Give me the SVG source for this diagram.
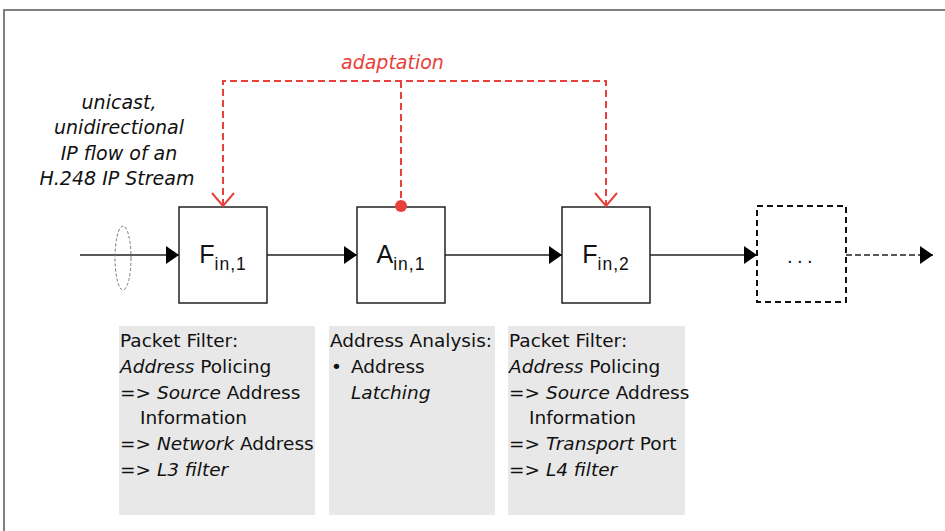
<svg xmlns="http://www.w3.org/2000/svg" width="945" height="531" viewBox="0 0 945 531">
<style>
.box{fill:#fff;stroke:#222;stroke-width:1.5}
.lbl{font-family:"Liberation Sans",Arial,sans-serif;font-size:25px;fill:#111;text-anchor:middle}
.sub{font-size:17.5px;letter-spacing:1px}
.note{fill:#e8e8e8}
.t{font-family:"DejaVu Sans",sans-serif;font-size:18.5px;fill:#111}
.i{font-style:italic}
.flow{stroke:#222;stroke-width:1.5;fill:none}
.red{stroke:#e8403a;stroke-width:2;fill:none;stroke-dasharray:7 4}
.side{font-family:"DejaVu Sans",sans-serif;font-size:19px;font-style:italic;fill:#111;text-anchor:middle}
</style>
<defs>
<marker id="ah" markerWidth="13" markerHeight="18" refX="13" refY="9" orient="auto" markerUnits="userSpaceOnUse">
<path d="M0,0 L13,9 L0,18 Z" fill="#000"/>
</marker>
</defs>
<rect width="945" height="531" fill="#fff"/>
<rect x="4" y="10" width="1000" height="600" fill="none" stroke="#808080" stroke-width="2"/>

<g id="side-label">
<text class="side" x="119" y="109">unicast,</text>
<text class="side" x="119" y="134">unidirectional</text>
<text class="side" x="119" y="160">IP flow of an</text>
<text class="side" x="117" y="185">H.248 IP Stream</text>
</g>

<g id="F1">
<rect class="box" x="179" y="207" width="88" height="96"/>
<text class="lbl" x="223" y="263">F<tspan class="sub" dy="7">in,1</tspan></text>
</g>
<g id="A1">
<rect class="box" x="357" y="207" width="88" height="96"/>
<text class="lbl" x="401" y="263">A<tspan class="sub" dy="7">in,1</tspan></text>
</g>
<g id="F2">
<rect class="box" x="562" y="207" width="88" height="96"/>
<text class="lbl" x="606" y="263">F<tspan class="sub" dy="7">in,2</tspan></text>
</g>
<g id="more">
<rect x="757" y="206" width="89" height="96" fill="#fff" stroke="#111" stroke-width="2" stroke-dasharray="6 4"/>
<text x="802" y="263" font-family="DejaVu Sans, sans-serif" font-size="18px" letter-spacing="4.3" text-anchor="middle" fill="#111">...</text>
</g>

<g id="connectors">
<line class="flow" x1="80" y1="255" x2="179" y2="255" marker-end="url(#ah)"/>
<ellipse cx="123" cy="258" rx="8" ry="32" fill="none" stroke="#777" stroke-width="1" stroke-dasharray="3 2"/>
<line class="flow" x1="267" y1="255" x2="357" y2="255" marker-end="url(#ah)"/>
<line class="flow" x1="445" y1="255" x2="562" y2="255" marker-end="url(#ah)"/>
<line class="flow" x1="650" y1="255" x2="757" y2="255" marker-end="url(#ah)"/>
<line class="flow" x1="846" y1="255" x2="933" y2="255" stroke-dasharray="6 3" marker-end="url(#ah)"/>
<path class="red" d="M223,206 V81 H606 V206"/>
<path class="red" d="M401,81 V206"/>
<path d="M212,193 L223,206 L234,193 M595,193 L606,206 L617,193" fill="none" stroke="#e8403a" stroke-width="2"/>
<circle cx="401" cy="206" r="6" fill="#e8403a"/>
<text x="341" y="69" font-family="DejaVu Sans, sans-serif" font-size="19px" font-style="italic" fill="#e8403a">adaptation</text>
</g>

<g id="note1">
<rect class="note" x="119" y="326" width="196" height="189"/>
<text class="t" x="120" y="347">Packet Filter:</text>
<text class="t" x="120" y="373"><tspan class="i">Address</tspan> Policing</text>
<text class="t" x="120" y="398.5">=&gt; <tspan class="i">Source</tspan> Address</text>
<text class="t" x="140" y="424">Information</text>
<text class="t" x="120" y="450">=&gt; <tspan class="i">Network</tspan> Address</text>
<text class="t" x="120" y="475.5">=&gt; <tspan class="i">L3 filter</tspan></text>
</g>
<g id="note2">
<rect class="note" x="329" y="326" width="166" height="189"/>
<text class="t" x="330" y="347">Address Analysis:</text>
<text class="t" x="331" y="373">•</text>
<text class="t" x="351" y="373">Address</text>
<text class="t i" x="351" y="398.5">Latching</text>
</g>
<g id="note3">
<rect class="note" x="508" y="326" width="177" height="189"/>
<text class="t" x="509" y="347">Packet Filter:</text>
<text class="t" x="509" y="373"><tspan class="i">Address</tspan> Policing</text>
<text class="t" x="509" y="398.5">=&gt; <tspan class="i">Source</tspan> Address</text>
<text class="t" x="529" y="424">Information</text>
<text class="t" x="509" y="450">=&gt; <tspan class="i">Transport</tspan> Port</text>
<text class="t" x="509" y="475.5">=&gt; <tspan class="i">L4 filter</tspan></text>
</g>
</svg>
